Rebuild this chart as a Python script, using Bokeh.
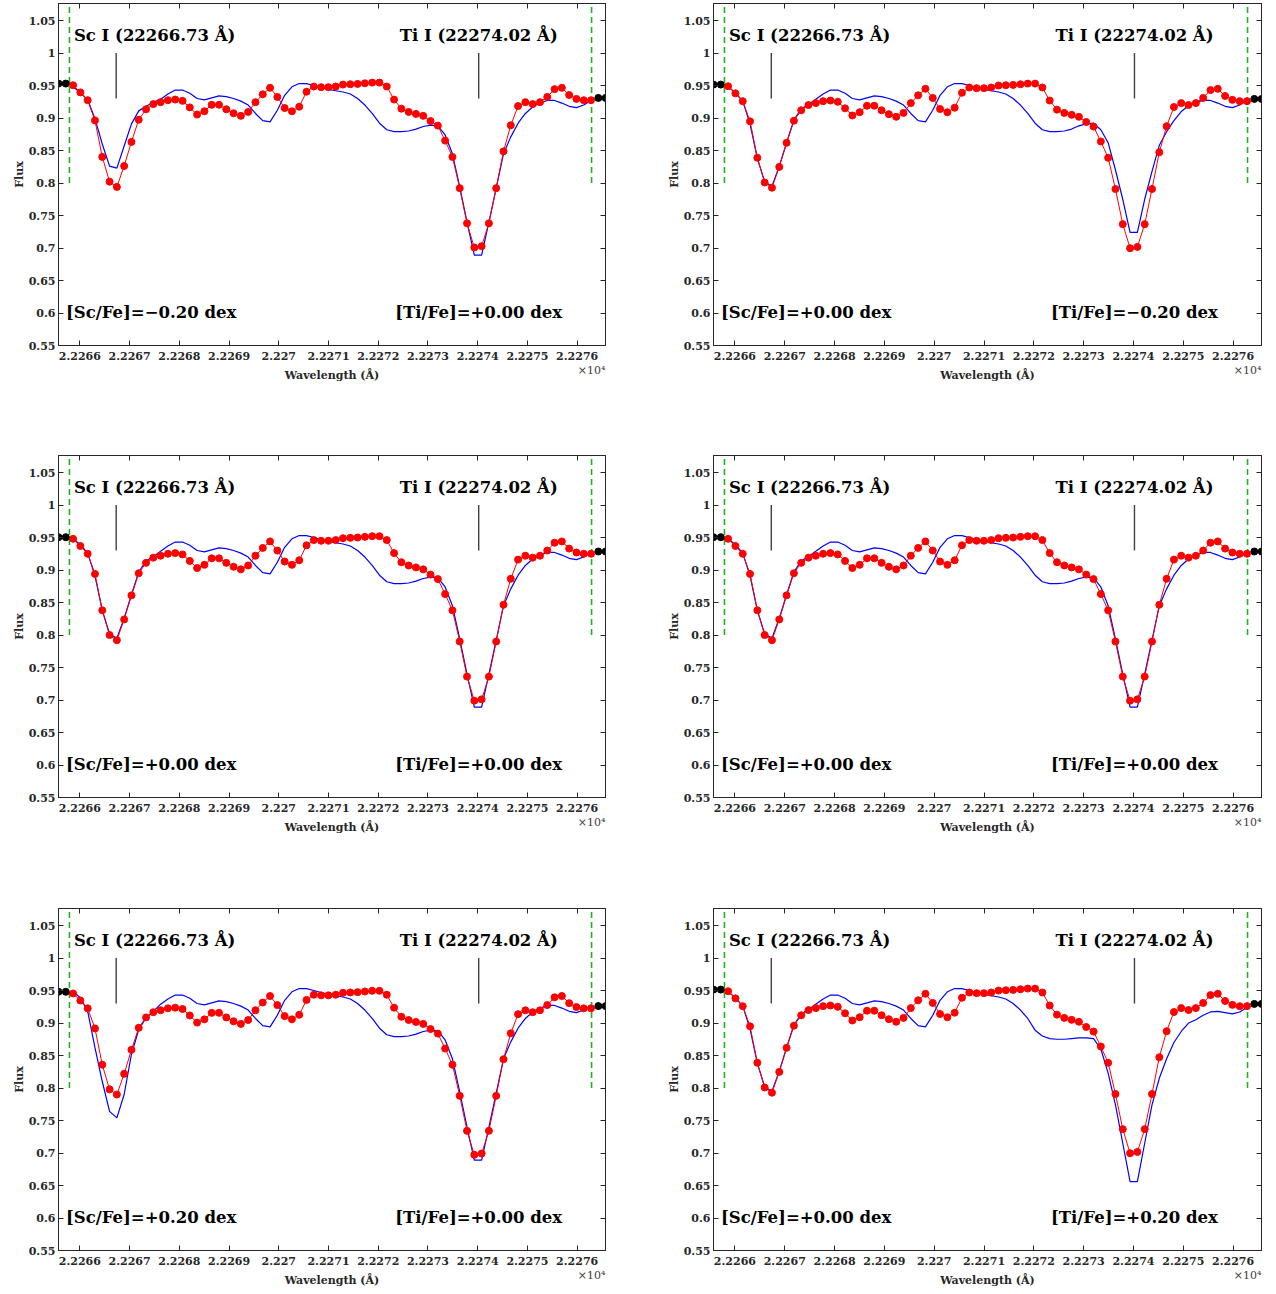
import numpy as np
from bokeh.plotting import figure
from bokeh.models import Range1d, LinearAxis, FixedTicker, Label
from bokeh.layouts import column, row
from bokeh.embed import file_html
from bokeh.resources import INLINE

# ---------------- data ----------------
wl_start = 22265.57      # first sample (Angstrom)
wl_step = 0.1467         # sampling step (Angstrom)
n_pix = 76

# observed spectrum (k = 0..75); k=0,1 and 74,75 are outside the fit window (black)
obs_base = [0.9505, 0.9505, 0.948, 0.937, 0.925, 0.894, 0.838, 0.800, 0.792, 0.824,
            0.861, 0.895, 0.911, 0.919, 0.922, 0.925, 0.926, 0.924, 0.914, 0.903,
            0.908, 0.918, 0.918, 0.911, 0.905, 0.901, 0.907, 0.922, 0.934, 0.944,
            0.930, 0.913, 0.908, 0.915, 0.938, 0.946, 0.945, 0.945, 0.946, 0.949,
            0.9495, 0.950, 0.951, 0.952, 0.952, 0.946, 0.926, 0.912, 0.907, 0.904,
            0.901, 0.893, 0.886, 0.863, 0.838, 0.790, 0.736, 0.699, 0.701, 0.736,
            0.790, 0.8465, 0.8865, 0.916, 0.922, 0.919, 0.922, 0.930, 0.942, 0.944,
            0.933, 0.927, 0.925, 0.925, 0.9285, 0.9285]

# synthetic spectrum for [Sc/Fe]=[Ti/Fe]=0 (k = 2..73)
model_base = [0.948, 0.939, 0.926, 0.891, 0.838, 0.802, 0.795, 0.826, 0.862, 0.897,
              0.914, 0.921, 0.929, 0.937, 0.943, 0.943, 0.938, 0.930, 0.928, 0.931,
              0.934, 0.933, 0.930, 0.926, 0.920, 0.907, 0.896, 0.894, 0.912, 0.935,
              0.948, 0.953, 0.953, 0.950, 0.947, 0.944, 0.942, 0.940, 0.937, 0.930,
              0.920, 0.907, 0.892, 0.882, 0.879, 0.879, 0.880, 0.883, 0.887, 0.889,
              0.888, 0.874, 0.845, 0.794, 0.740, 0.689, 0.689, 0.740, 0.792, 0.845,
              0.871, 0.892, 0.907, 0.917, 0.923, 0.927, 0.927, 0.923, 0.918, 0.916,
              0.920, 0.927]

# synthetic spectra where the abundance differs (first pixel index, values)
sc_m020 = (4, [0.928, 0.899, 0.860, 0.826, 0.823, 0.857, 0.891, 0.911, 0.918, 0.924])
sc_p020 = (4, [0.918, 0.862, 0.810, 0.764, 0.754, 0.790, 0.852, 0.890, 0.908, 0.918])
ti_m020 = (50, [0.888, 0.891, 0.892, 0.882, 0.862, 0.820, 0.775, 0.724, 0.724, 0.775,
                0.818, 0.858, 0.879, 0.896, 0.910, 0.919, 0.924])
ti_p020 = (44, [0.889, 0.880, 0.876, 0.875, 0.875, 0.876, 0.877, 0.877, 0.876, 0.860,
                0.823, 0.774, 0.715, 0.656, 0.656, 0.715, 0.774, 0.815, 0.845, 0.870,
                0.887, 0.900, 0.905, 0.912, 0.917, 0.918, 0.916, 0.914, 0.917, 0.924])

# per-panel abundances and relative continuum level of the observed spectrum
panel_sc = ["\u22120.20", "+0.00", "+0.00", "+0.00", "+0.20", "+0.00"]
panel_ti = ["+0.00", "\u22120.20", "+0.00", "+0.00", "+0.00", "+0.20"]
panel_scv = [sc_m020, None, None, None, sc_p020, None]
panel_tiv = [None, ti_m020, None, None, None, ti_p020]
obs_scale = [1.0026, 1.001, 1.0, 1.0, 0.9974, 1.001]

sc_line = 22266.73
ti_line = 22274.02
win_lo, win_hi = 22265.79, 22276.29
x_ticks = [22266, 22267, 22268, 22269, 22270, 22271, 22272, 22273, 22274, 22275, 22276]
y_ticks = [0.55, 0.6, 0.65, 0.7, 0.75, 0.8, 0.85, 0.9, 0.95, 1.0, 1.05]
x_title = "Wavelength (\u00c5)"
x_exponent = "\u00d710\u2074"

# ---------------- drawing ----------------
wl = wl_start + wl_step * np.arange(n_pix)
AX = "#262626"
SERIF = "DejaVu Serif"
X0, X1 = 22265.57, 22276.57
Y0, Y1 = 0.55, 1.0762


def ylab(v):
    return f"{v:.2f}".rstrip("0").rstrip(".")


def xlab(v):
    return f"{v/1e4:.4f}".rstrip("0")


def style_axis(ax):
    ax.axis_line_color = AX
    ax.major_tick_line_color = AX
    ax.major_tick_in = 5
    ax.major_tick_out = 0
    ax.minor_tick_line_color = None
    ax.major_label_text_font = SERIF
    ax.major_label_text_font_style = "bold"
    ax.major_label_text_font_size = "11px"
    ax.major_label_text_color = AX
    ax.axis_label_text_font = SERIF
    ax.axis_label_text_font_style = "bold"
    ax.axis_label_text_font_size = "11px"
    ax.axis_label_text_color = AX


def make_panel(i, left_col, row_idx):
    bl = 58
    br = 50 if left_col else 13
    fw = bl + (547 if left_col else 548) + br
    bt = 3
    bb = [107, 108, 42][row_idx]
    fh = bt + 342 + bb
    p = figure(width=fw, height=fh, output_backend="svg", toolbar_location=None,
               x_range=Range1d(X0, X1), y_range=Range1d(Y0, Y1),
               min_border_left=bl, min_border_right=br, min_border_top=bt,
               min_border_bottom=bb, background_fill_color="white",
               border_fill_color="white")
    p.grid.visible = False
    p.outline_line_color = AX
    p.outline_line_width = 1

    style_axis(p.xaxis[0])
    style_axis(p.yaxis[0])
    p.xaxis[0].ticker = FixedTicker(ticks=x_ticks)
    p.xaxis[0].major_label_overrides = {t: xlab(t) for t in x_ticks}
    p.xaxis[0].major_label_standoff = 6
    p.yaxis[0].ticker = FixedTicker(ticks=y_ticks)
    p.yaxis[0].major_label_overrides = {t: ylab(t) for t in y_ticks}
    p.yaxis[0].major_label_standoff = 3
    p.yaxis[0].axis_label = "Flux"
    p.yaxis[0].axis_label_standoff = 0

    # second row under the x axis: x10^4 exponent (right) and the axis title
    xe = win_hi
    lab_ax = LinearAxis(ticker=FixedTicker(ticks=[xe]))
    style_axis(lab_ax)
    lab_ax.axis_line_color = None
    lab_ax.major_tick_line_color = None
    lab_ax.major_tick_in = 0
    lab_ax.major_label_standoff = 1
    lab_ax.major_label_text_font_style = "normal"
    lab_ax.major_label_text_color = "#404040"
    lab_ax.major_label_overrides = {xe: x_exponent}
    lab_ax.axis_label = x_title
    lab_ax.axis_label_standoff = -11
    p.add_layout(lab_ax, "below")

    # mirrored tick-only axes (top, right)
    for loc, tk in (("above", x_ticks), ("right", y_ticks)):
        ax = LinearAxis(ticker=FixedTicker(ticks=tk))
        ax.axis_line_color = AX
        ax.major_tick_line_color = AX
        ax.major_tick_in = 5
        ax.major_tick_out = 0
        ax.minor_tick_line_color = None
        ax.major_label_text_color = None
        ax.major_label_text_font_size = "1px"
        ax.major_label_standoff = 0
        p.add_layout(ax, loc)

    model = list(model_base)
    for var in (panel_scv[i], panel_tiv[i]):
        if var is not None:
            k0, vals = var
            for j, v in enumerate(vals):
                model[k0 - 2 + j] = v
    obs = np.array(obs_base) * obs_scale[i]

    # fit window (green dashed)
    for xw in (win_lo, win_hi):
        p.line([xw, xw], [0.8, 1.08], line_color="#1db31d", line_width=1.6,
               line_dash="6 4")
    # line positions
    for xl in (sc_line, ti_line):
        p.line([xl, xl], [0.93, 1.0], line_color="#404040", line_width=1.4)

    p.line(wl[2:74], model, line_color="#0000ff", line_width=1.2)
    p.line(wl[2:74], obs[2:74], line_color="#ff0000", line_width=1)
    p.scatter(wl[2:74], obs[2:74], size=7, fill_color="#ff0000", line_color="#ff0000")
    for a, b in ((0, 2), (74, 76)):
        p.line(wl[a:b], obs[a:b], line_color="black", line_width=1)
        p.scatter(wl[a:b], obs[a:b], size=7, fill_color="black", line_color="black")

    common = dict(text_font=SERIF, text_font_style="bold", text_font_size="16.5px",
                  text_color="black", text_baseline="middle")
    p.add_layout(Label(x=22265.88, y=1.027, text="Sc I (22266.73 \u00c5)",
                       text_align="left", **common))
    p.add_layout(Label(x=ti_line, y=1.027, text="Ti I (22274.02 \u00c5)",
                       text_align="center", **common))
    p.add_layout(Label(x=22265.72, y=0.601, text=f"[Sc/Fe]={panel_sc[i]} dex",
                       text_align="left", **common))
    p.add_layout(Label(x=ti_line, y=0.601, text=f"[Ti/Fe]={panel_ti[i]} dex",
                       text_align="center", **common))
    return p


rows = []
for r in range(3):
    rows.append(row(make_panel(2 * r, True, r), make_panel(2 * r + 1, False, r)))
layout = column(*rows)

open("out.html", "w").write(file_html(layout, INLINE))
